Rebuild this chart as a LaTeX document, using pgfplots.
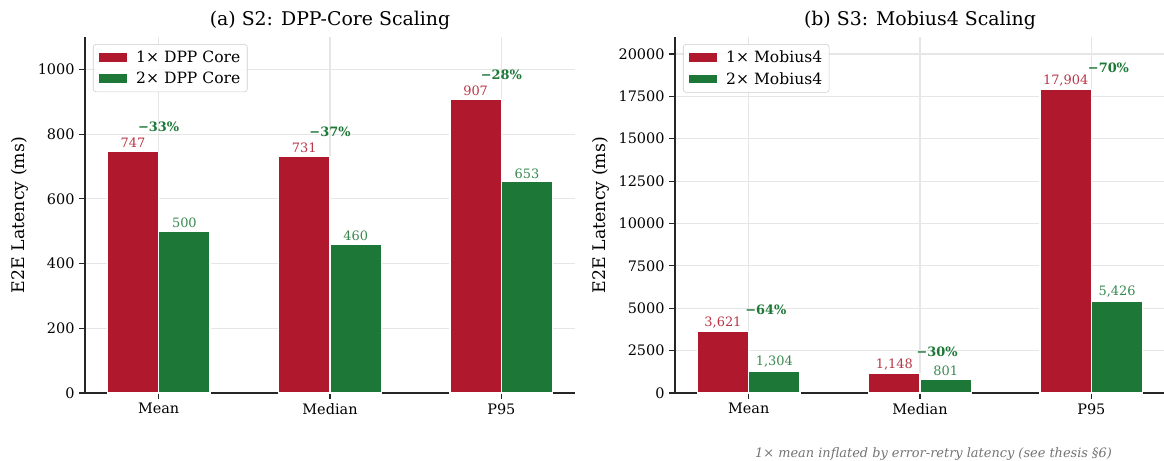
\documentclass[border=0pt]{standalone}
\usepackage{pgfplots}
\pgfplotsset{compat=1.18}
\usepackage{fontspec}
\setmainfont{DejaVu Serif}
\definecolor{cred}{HTML}{B0182D}
\definecolor{cgreen}{HTML}{1D7838}
\definecolor{gridc}{HTML}{E6E6E6}
\definecolor{spinec}{HTML}{262626}
\pgfplotsset{
  common/.style={
    scale only axis, width=352.8pt, height=256.32pt, anchor=south west,
    ybar, bar width=0.3,
    axis lines*=left, axis line style={spinec, line width=0.8pt},
    xmin=-0.43, xmax=2.43, ymin=0,
    xtick={0,1,2}, xticklabels={Mean,Median,P95},
    tick style={spinec, line width=0.8pt}, tick align=outside,
    major tick length=4pt,
    grid=major, major grid style={gridc, line width=0.8pt},
    ticklabel style={font=\fontsize{10.4}{12}\selectfont},
    /pgf/number format/assume math mode=true,
    /pgf/number format/1000 sep={},
    scaled y ticks=false,
    ylabel={E2E Latency (ms)},
    ylabel style={font=\fontsize{12.5}{15}\selectfont},
    title style={font=\fontsize{13.6}{16}\selectfont, yshift=-4pt},
    clip=false,
    legend cell align=left,
    legend style={font=\fontsize{11.2}{13}\selectfont, draw=black!20, rounded corners=2pt,
      fill=white, fill opacity=0.85, text opacity=1, anchor=north west,
      inner xsep=3pt, inner ysep=2.5pt, row sep=1.5pt, column sep=4pt},
  },
  lgimg/.style={legend image code/.code={\fill[##1, sharp corners, fill opacity=1] (0pt,-3.5pt) rectangle (21pt,3.5pt);}},
  redbar/.style={bar shift=-0.15, fill=cred, draw=white, line width=0.9pt, lgimg,
    point meta=explicit symbolic, nodes near coords,
    every node near coord/.append style={font=\fontsize{9.3}{11}\selectfont, text=cred!88!white, inner sep=2pt}},
  greenbar/.style={bar shift=0.15, fill=cgreen, draw=white, line width=0.9pt, lgimg,
    point meta=explicit symbolic, nodes near coords,
    every node near coord/.append style={font=\fontsize{9.3}{11}\selectfont, text=cgreen!88!white, inner sep=2pt}},
  pct/.style={bar shift=0, draw=none, fill=none, bar width=0.001, point meta=explicit symbolic, nodes near coords,
    every node near coord/.append style={anchor=center, font=\bfseries\fontsize{9.3}{11}\selectfont, text=cgreen}},
}
\begin{document}
\begin{tikzpicture}
\useasboundingbox (0,0) rectangle (838.08pt,331.92pt);
\begin{axis}[common, at={(61.2pt,48.96pt)}, ymax=1100,
  title={(a) S2: DPP-Core Scaling},
  ytick={0,200,400,600,800,1000},
  legend style={at={(0.0163,0.980)}}]
\addplot[redbar] coordinates {(0,747) [747] (1,731) [731] (2,907) [907]};
\addlegendentry{1× DPP Core}
\addplot[greenbar] coordinates {(0,500) [500] (1,460) [460] (2,653) [653]};
\addlegendentry{2× DPP Core}
\addplot[pct, forget plot] coordinates {(0,822) [−33\%] (1,806) [−37\%] (2,982) [−28\%]};
\end{axis}
\begin{axis}[common, at={(486pt,48.96pt)}, ymax=21000,
  title={(b) S3: Mobius4 Scaling},
  ytick={0,2500,5000,7500,10000,12500,15000,17500,20000},
  legend style={at={(0.0163,0.980)}}]
\addplot[redbar] coordinates {(0,3621) [3,621] (1,1148) [1,148] (2,17904) [17,904]};
\addlegendentry{1× Mobius4}
\addplot[greenbar] coordinates {(0,1304) [1,304] (1,801) [801] (2,5426) [5,426]};
\addlegendentry{2× Mobius4}
\addplot[pct, forget plot] coordinates {(0.1,4905) [−64\%] (1.1,2423) [−30\%] (2.1,19208) [−70\%]};
\node[anchor=base west, font=\itshape\fontsize{9.3}{11}\selectfont, text=black!55, inner sep=0pt]
  at (rel axis cs:0.163,-0.180) {1× mean inflated by error-retry latency (see thesis §6)};
\end{axis}
\end{tikzpicture}
\end{document}
